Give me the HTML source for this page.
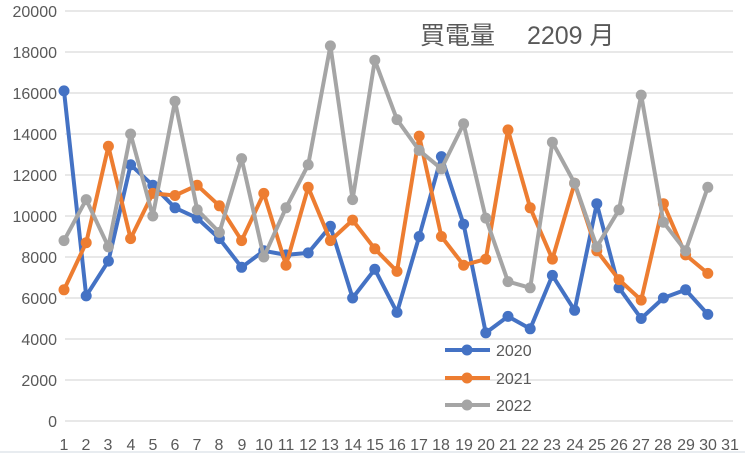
<!DOCTYPE html>
<html><head><meta charset="utf-8"><style>
body{margin:0;background:#fff;}
svg{display:block;font-family:"Liberation Sans","Noto Sans CJK JP",sans-serif;}
</style></head><body>
<svg id="c" width="745" height="453" viewBox="0 0 745 453">
<g stroke="#d9d9d9" stroke-width="1.3">
<line x1="65" x2="733" y1="421" y2="421"/><line x1="65" x2="733" y1="380" y2="380"/>
<line x1="65" x2="733" y1="339" y2="339"/><line x1="65" x2="733" y1="298" y2="298"/>
<line x1="65" x2="733" y1="257" y2="257"/><line x1="65" x2="733" y1="216" y2="216"/>
<line x1="65" x2="733" y1="175" y2="175"/><line x1="65" x2="733" y1="134" y2="134"/>
<line x1="65" x2="733" y1="93" y2="93"/><line x1="65" x2="733" y1="52" y2="52"/>
<line x1="65" x2="733" y1="11" y2="11"/>
</g>
<line x1="0" x2="745" y1="452" y2="452" stroke="#d0d8e0"/>
<g fill="#595959" font-size="16" text-anchor="end">
<text x="57" y="427">0</text><text x="57" y="386">2000</text><text x="57" y="345">4000</text>
<text x="57" y="304">6000</text><text x="57" y="263">8000</text><text x="57" y="222">10000</text>
<text x="57" y="181">12000</text><text x="57" y="140">14000</text><text x="57" y="99">16000</text>
<text x="57" y="58">18000</text><text x="57" y="17">20000</text>
</g>
<g fill="#595959" font-size="16" text-anchor="middle">
<text x="64" y="450">1</text><text x="86" y="450">2</text><text x="108" y="450">3</text><text x="131" y="450">4</text><text x="153" y="450">5</text><text x="175" y="450">6</text><text x="197" y="450">7</text><text x="219" y="450">8</text><text x="242" y="450">9</text><text x="264" y="450">10</text><text x="286" y="450">11</text><text x="308" y="450">12</text><text x="330" y="450">13</text><text x="353" y="450">14</text><text x="375" y="450">15</text><text x="397" y="450">16</text><text x="419" y="450">17</text><text x="441" y="450">18</text><text x="464" y="450">19</text><text x="486" y="450">20</text><text x="508" y="450">21</text><text x="530" y="450">22</text><text x="552" y="450">23</text><text x="575" y="450">24</text><text x="597" y="450">25</text><text x="619" y="450">26</text><text x="641" y="450">27</text><text x="663" y="450">28</text><text x="686" y="450">29</text><text x="708" y="450">30</text><text x="730" y="450">31</text>
</g>
<text x="420" y="44" font-size="25" fill="#595959">買電量　 2209 月</text>
<g id="series"></g>
<g font-size="16" fill="#595959">
<line x1="445" x2="490" y1="350" y2="350" stroke="#4472c4" stroke-width="4"/><circle cx="467" cy="350" r="5.5" fill="#4472c4"/><text x="496" y="356">2020</text>
<line x1="445" x2="490" y1="378" y2="378" stroke="#ed7d31" stroke-width="4"/><circle cx="467" cy="378" r="5.5" fill="#ed7d31"/><text x="496" y="384">2021</text>
<line x1="445" x2="490" y1="405" y2="405" stroke="#a5a5a5" stroke-width="4"/><circle cx="467" cy="405" r="5.5" fill="#a5a5a5"/><text x="496" y="411">2022</text>
</g>
</svg>
<script>
var d={
"#4472c4":[16100,6100,7800,12500,11500,10400,9900,8900,7500,8300,8100,8200,9500,6000,7400,5300,9000,12900,9600,4300,5100,4500,7100,5400,10600,6500,5000,6000,6400,5200],
"#ed7d31":[6400,8700,13400,8900,11100,11000,11500,10500,8800,11100,7600,11400,8800,9800,8400,7300,13900,9000,7600,7900,14200,10400,7900,11600,8300,6900,5900,10600,8100,7200],
"#a5a5a5":[8800,10800,8500,14000,10000,15600,10300,9200,12800,8000,10400,12500,18300,10800,17600,14700,13200,12300,14500,9900,6800,6500,13600,11600,8500,10300,15900,9700,8300,11400]};
var s="";
for(var c in d){var p=[],ci="";d[c].forEach(function(v,i){var x=64+i*22.2,y=421-v*410/20000;p.push(x.toFixed(1)+","+y.toFixed(1));ci+='<circle cx="'+x.toFixed(1)+'" cy="'+y.toFixed(1)+'" r="5.5" fill="'+c+'"/>';});
s+='<polyline points="'+p.join(" ")+'" fill="none" stroke="'+c+'" stroke-width="4" stroke-linejoin="round"/>'+ci;}
document.getElementById("series").innerHTML=s;
</script>
</body></html>
